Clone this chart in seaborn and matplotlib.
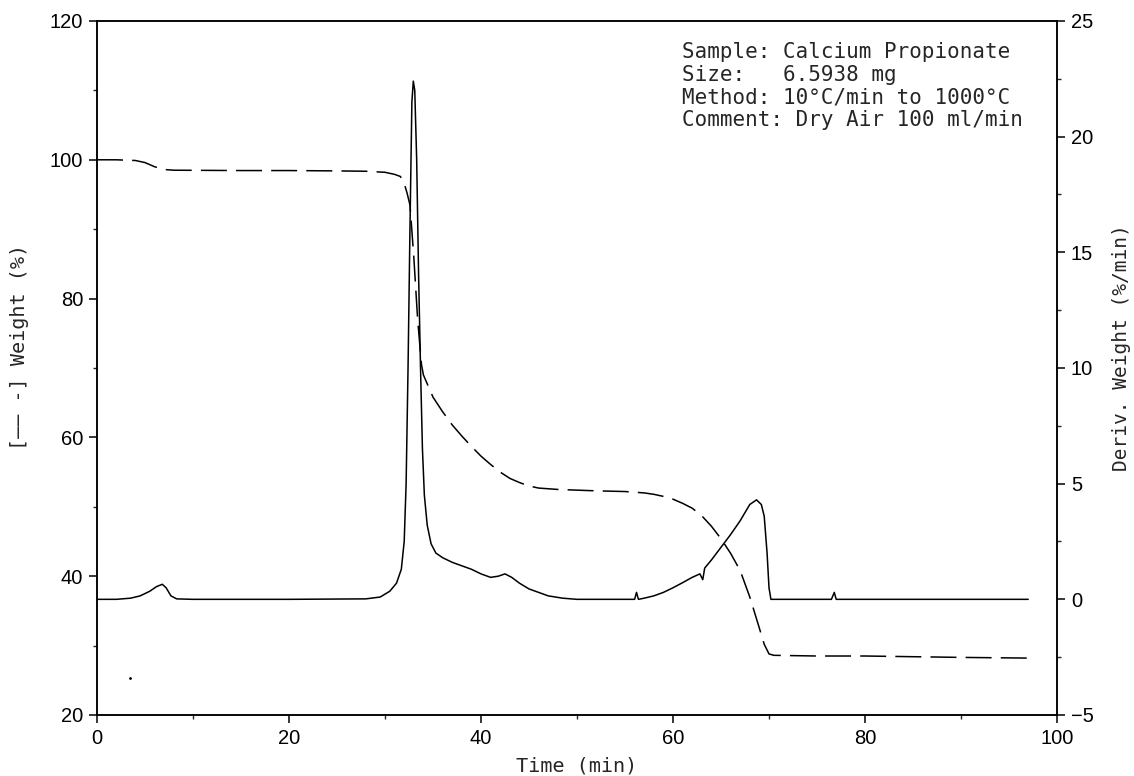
import numpy as np
import pandas as pd
import matplotlib
matplotlib.use("Agg")
import matplotlib.pyplot as plt
from matplotlib.ticker import MultipleLocator
import seaborn as sns

# weight curve (dashed, left axis)
weight_time = [0, 2, 4, 5, 6, 7, 8, 15, 20, 25, 28, 30, 31, 31.6, 32.0, 32.3, 32.6,
               33.0, 33.4, 33.8, 34.0, 35, 36, 37, 38, 39, 40, 41, 42, 43, 44, 45,
               46, 48, 50, 52, 55, 57, 58, 59, 60, 61, 62, 63, 64, 65, 66, 67, 68,
               69, 69.5, 70, 70.5, 75, 80, 85, 90, 97]
weight_pct = [100.0, 100.0, 99.9, 99.6, 99.0, 98.6, 98.5, 98.45, 98.45, 98.4, 98.35,
              98.2, 97.9, 97.6, 96.6, 95.2, 93.5, 86.0, 77.0, 70.5, 69.0, 65.8, 63.7,
              61.8, 60.2, 58.7, 57.3, 56.1, 55.0, 54.1, 53.5, 53.0, 52.7, 52.5, 52.4,
              52.3, 52.2, 52.0, 51.8, 51.5, 51.1, 50.5, 49.8, 48.7, 47.2, 45.4, 43.3,
              40.8, 37.0, 32.5, 30.2, 28.8, 28.6, 28.5, 28.5, 28.4, 28.3, 28.2]

# derivative curve (solid, right axis)
deriv_time = [0, 2, 3.5, 4.5, 5.5, 6.2, 6.8, 7.2, 7.7, 8.3, 10, 20, 28, 29.5, 30.5,
              31.2, 31.7, 32.0, 32.2, 32.4, 32.6, 32.8, 32.95, 33.1, 33.3, 33.5,
              33.7, 33.9, 34.1, 34.4, 34.8, 35.3, 36, 37, 38, 39, 40, 41, 41.8, 42.5,
              43.2, 44, 45, 46, 47, 48.5, 50, 55.5, 56.0, 56.2, 56.4, 57, 58, 59, 60,
              61, 62, 62.8, 63.1, 63.3, 64, 65, 66, 67, 68, 68.7, 69.2, 69.5, 69.8,
              70.0, 70.2, 76.5, 76.8, 77.0, 97]
deriv_val = [0.0, 0.0, 0.05, 0.15, 0.35, 0.55, 0.65, 0.5, 0.15, 0.02, 0.0, 0.0, 0.02,
             0.1, 0.35, 0.7, 1.3, 2.5, 5.0, 10.0, 16.0, 21.5, 22.4, 22.0, 19.0, 14.0,
             10.0, 6.5, 4.5, 3.2, 2.4, 2.0, 1.8, 1.6, 1.45, 1.3, 1.1, 0.95, 1.0, 1.1,
             0.95, 0.7, 0.45, 0.3, 0.15, 0.05, 0.0, 0.0, 0.0, 0.3, 0.0, 0.05, 0.15,
             0.3, 0.5, 0.72, 0.95, 1.1, 0.85, 1.35, 1.7, 2.25, 2.8, 3.4, 4.1, 4.3,
             4.1, 3.6, 2.0, 0.5, 0.0, 0.0, 0.3, 0.0, 0.0]

# stray dot on the scan
dot_time = [3.4]
dot_pct = [25.3]

info_lines = ["Sample: Calcium Propionate",
              "Size:   6.5938 mg",
              "Method: 10°C/min to 1000°C",
              "Comment: Dry Air 100 ml/min"]

sns.set_style("ticks")
plt.rcParams["font.family"] = ["Liberation Sans", "DejaVu Sans"]
mono = ["DejaVu Sans Mono", "DejaVu Sans"]

fig = plt.figure(figsize=(11.34, 7.76), dpi=100)
ax = fig.add_axes([97 / 1134, 1 - 715 / 776, 960 / 1134, 694 / 776])
ax2 = ax.twinx()

sns.lineplot(x=weight_time, y=weight_pct, ax=ax, color="black", lw=1.1,
             linestyle=(0, (17, 6)), sort=False)
sns.scatterplot(x=dot_time, y=dot_pct, ax=ax, color="black", s=4, linewidth=0)
sns.lineplot(x=deriv_time, y=deriv_val, ax=ax2, color="black", lw=1.1, sort=False)

ax.set_xlim(0, 100)
ax.set_ylim(20, 120)
ax2.set_ylim(-5, 25)
ax.xaxis.set_major_locator(MultipleLocator(20))
ax.xaxis.set_minor_locator(MultipleLocator(10))
ax.yaxis.set_major_locator(MultipleLocator(20))
ax.yaxis.set_minor_locator(MultipleLocator(10))
ax2.yaxis.set_major_locator(MultipleLocator(5))
ax2.yaxis.set_minor_locator(MultipleLocator(2.5))

for a in (ax, ax2):
    for s in a.spines.values():
        s.set_linewidth(1.1)
        s.set_color("black")
    a.tick_params(which="major", direction="out", length=6, width=1.1,
                  labelsize=14.5, pad=4, colors="black")
    a.tick_params(which="minor", direction="out", length=3, width=1.0)
ax.tick_params(which="both", top=False, right=False)
ax2.tick_params(which="both", left=False, right=True)

ax.set_xlabel("Time (min)", family=mono, fontsize=14.5, labelpad=6)
ax.set_ylabel("[—— -] Weight (%)", family=mono, fontsize=14.5)
ax2.set_ylabel("Deriv. Weight (%/min)", family=mono, fontsize=14)
ax.yaxis.set_label_coords(-0.071, 0.53)
ax2.yaxis.set_label_coords(1.057, 0.53)

for i, line in enumerate(info_lines):
    fig.text(682 / 1134, 1 - (52 + 22.7 * i) / 776, line, family=mono,
             fontsize=15, va="center", ha="left")

fig.savefig("out.png", dpi=100)
